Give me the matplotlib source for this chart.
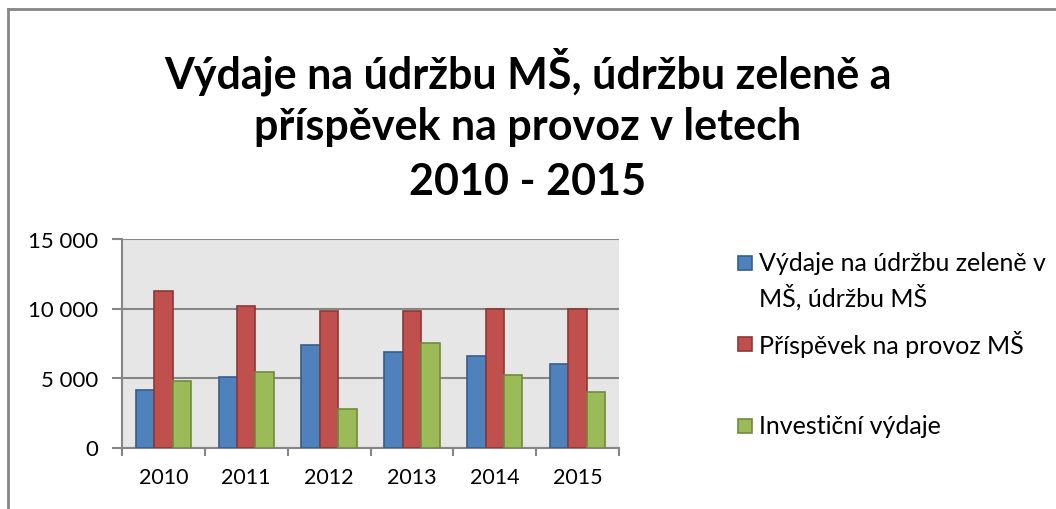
import matplotlib
matplotlib.use("Agg")
import matplotlib.pyplot as plt
from matplotlib.lines import Line2D
from matplotlib.patches import Rectangle
import numpy as np

plt.rcParams['font.family'] = ['Lato', 'DejaVu Sans']

years = ["2010", "2011", "2012", "2013", "2014", "2015"]
udrzba = [4150, 5050, 7350, 6900, 6550, 6000]
prispevek = [11250, 10200, 9800, 9850, 10000, 9950]
investice = [4800, 5450, 2800, 7500, 5200, 4000]
series_names = ["Výdaje na údržbu zeleně v\nMŠ, údržbu MŠ", "Příspěvek na provoz MŠ", "Investiční výdaje"]
yticks = [0, 5000, 10000, 15000]
ytick_labels = ["0", "5 000", "10 000", "15 000"]
title_lines = ["Výdaje na údržbu MŠ, údržbu zeleně a", "příspěvek na provoz v letech", "2010 - 2015"]

fills = ["#4F81BD", "#C0504D", "#9BBB59"]
edges = ["#385D8A", "#8C3836", "#71893F"]
grid_c = "#868686"

W, H = 1056, 510
fig = plt.figure(figsize=(W / 100, H / 100), dpi=100)
ax = fig.add_axes([122 / W, 1 - 448.5 / H, (619 - 122) / W, (448.5 - 240) / H])
ax.set_facecolor("#E6E6E6")

x = np.arange(len(years))
w = 1 / 4.5
for i, vals in enumerate([udrzba, prispevek, investice]):
    ax.bar(x + (i - 1) * w, vals, width=w, color=fills[i], edgecolor=edges[i], linewidth=1.2, zorder=3)

ax.set_xlim(-0.5, len(years) - 0.5)
ax.set_ylim(0, 15000)
ax.set_yticks(yticks)
ax.set_yticklabels(ytick_labels, fontsize=16)
ax.yaxis.grid(True, color=grid_c, linewidth=1.5, zorder=1)
ax.set_axisbelow(True)
ax.set_xticks(x)
ax.set_xticklabels(years, fontsize=15.5)
ax.set_xticks(np.arange(-0.5, len(years)), minor=True)
ax.tick_params(axis='x', which='major', length=0, pad=14)
ax.tick_params(axis='x', which='minor', length=6, width=1.5, color=grid_c, direction='out')
ax.tick_params(axis='y', length=7, width=1.5, color=grid_c, direction='out', pad=10)
for s in ['top', 'right']:
    ax.spines[s].set_visible(False)
for s in ['left', 'bottom']:
    ax.spines[s].set_color(grid_c)
    ax.spines[s].set_linewidth(1.5)

# title
title_y = [72, 127, 182]
for t, yy in zip(title_lines, title_y):
    fig.text(0.5, 1 - yy / H, t, ha='center', va='center', fontsize=31, fontweight='bold', color='black')

# legend
square_y = [264, 345, 427]
text_y = [281, 345, 427]
for i, (name, sy, ty) in enumerate(zip(series_names, square_y, text_y)):
    fig.patches.append(Rectangle((738 / W, 1 - (sy + 7) / H), 14 / W, 14 / H, transform=fig.transFigure,
                                 facecolor=fills[i], edgecolor=edges[i], linewidth=1.2))
    fig.text(759 / W, 1 - ty / H, name, ha='left', va='center', fontsize=18, linespacing=1.42)

# outer border
fig.add_artist(Line2D([8 / W, 8 / W], [0, 1 - 10 / H], transform=fig.transFigure, color=grid_c, linewidth=2))
fig.add_artist(Line2D([8 / W, 1], [1 - 10 / H, 1 - 10 / H], transform=fig.transFigure, color=grid_c, linewidth=2))

fig.savefig("out.png", dpi=100, facecolor="white")
